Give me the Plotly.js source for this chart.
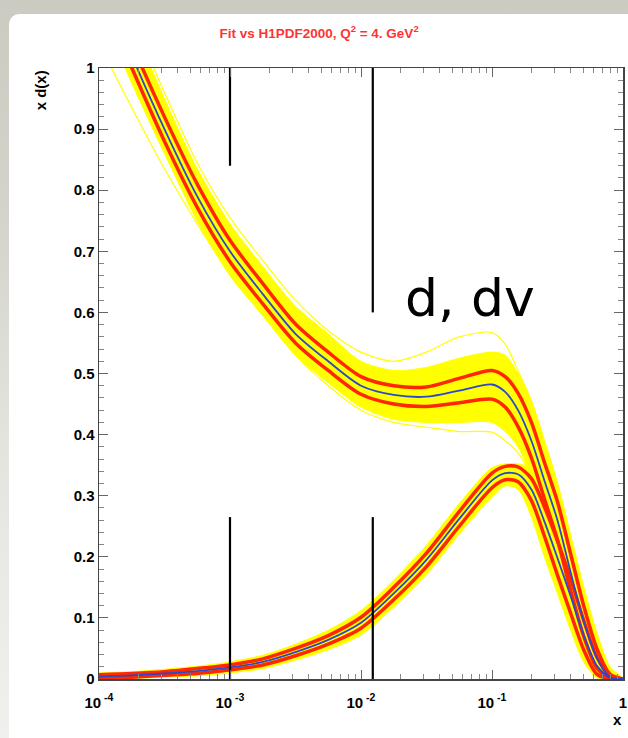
<!DOCTYPE html>
<html>
<head>
<meta charset="utf-8">
<script src="https://cdn.plot.ly/plotly-3.0.1.min.js"></script>
<style>
  html, body { margin:0; padding:0; }
  body { width:628px; height:738px; position:relative; overflow:hidden;
         background: linear-gradient(180deg, #cbcbc2 0%, #d4d4cc 30%, #e4e4df 60%, #f0f0ee 100%); }
  #card { position:absolute; left:9px; top:14px; width:619px; height:724px; background:#ffffff;
          border-top-left-radius:10px; }
  #chart { position:absolute; left:0; top:0; width:628px; height:738px; }
</style>
</head>
<body>
<div id="card"></div>
<div id="chart"></div>
<script>
// x grid (Bjorken x)
const xs = [0.0001, 0.000178, 0.000316, 0.000562, 0.001, 0.00178, 0.00316, 0.00562, 0.01, 0.0178, 0.0316, 0.0562,
            0.1, 0.126, 0.158, 0.2, 0.251, 0.316, 0.398, 0.501, 0.631, 0.794, 1.0];

// d(x): central fit, red error lines, yellow replica envelope, outlying replicas
const dCentral  = [1.15, 1.02, 0.90, 0.79, 0.70, 0.63, 0.565, 0.52, 0.48, 0.465, 0.462, 0.472, 0.482, 0.47, 0.44, 0.39, 0.325, 0.26, 0.175, 0.095, 0.035, 0.003, 0.0];
const dRedUp    = [1.175, 1.04, 0.92, 0.81, 0.718, 0.647, 0.581, 0.535, 0.495, 0.48, 0.478, 0.492, 0.505, 0.495, 0.468, 0.42, 0.355, 0.29, 0.205, 0.12, 0.05, 0.008, 0.0];
const dRedLo    = [1.125, 1.0, 0.88, 0.772, 0.683, 0.614, 0.55, 0.505, 0.466, 0.45, 0.446, 0.452, 0.458, 0.445, 0.413, 0.362, 0.295, 0.228, 0.145, 0.07, 0.018, 0.0, 0.0];
const dYelUp    = [1.21, 1.075, 0.95, 0.835, 0.745, 0.675, 0.61, 0.565, 0.52, 0.505, 0.51, 0.525, 0.535, 0.53, 0.50, 0.455, 0.39, 0.32, 0.235, 0.15, 0.075, 0.02, 0.002];
const dYelLo    = [1.10, 0.975, 0.86, 0.75, 0.66, 0.595, 0.53, 0.485, 0.445, 0.425, 0.42, 0.42, 0.42, 0.405, 0.38, 0.33, 0.26, 0.195, 0.12, 0.055, 0.01, 0.0, 0.0];
const dOutHi    = [1.22, 1.085, 0.96, 0.845, 0.755, 0.685, 0.62, 0.57, 0.535, 0.52, 0.535, 0.56, 0.567, 0.548, 0.505, 0.455, 0.39, 0.32, 0.235, 0.15, 0.075, 0.02, 0.002];
const dOutLo    = [1.04, 0.935, 0.835, 0.745, 0.662, 0.595, 0.53, 0.48, 0.44, 0.42, 0.412, 0.405, 0.404, 0.39, 0.37, 0.33, 0.26, 0.195, 0.12, 0.055, 0.01, 0.0, 0.0];

// dv(x)
const dvCentral = [0.004, 0.006, 0.009, 0.013, 0.019, 0.028, 0.044, 0.064, 0.092, 0.14, 0.195, 0.262, 0.325, 0.337, 0.335, 0.31, 0.258, 0.198, 0.136, 0.072, 0.022, 0.002, 0.0];
const dvRedUp   = [0.007, 0.009, 0.012, 0.017, 0.023, 0.033, 0.05, 0.071, 0.101, 0.15, 0.206, 0.274, 0.337, 0.348, 0.347, 0.328, 0.282, 0.226, 0.164, 0.096, 0.036, 0.005, 0.0];
const dvRedLo   = [0.001, 0.003, 0.006, 0.009, 0.015, 0.023, 0.038, 0.057, 0.083, 0.13, 0.184, 0.25, 0.313, 0.326, 0.323, 0.292, 0.234, 0.17, 0.108, 0.048, 0.008, 0.0, 0.0];
const dvYelUp   = [0.010, 0.012, 0.016, 0.021, 0.028, 0.039, 0.057, 0.08, 0.112, 0.162, 0.219, 0.287, 0.346, 0.352, 0.352, 0.345, 0.308, 0.253, 0.191, 0.122, 0.057, 0.012, 0.0];
const dvYelLo   = [0.0, 0.001, 0.003, 0.005, 0.01, 0.017, 0.031, 0.048, 0.072, 0.118, 0.171, 0.237, 0.298, 0.316, 0.31, 0.265, 0.2, 0.14, 0.08, 0.028, 0.002, 0.0, 0.0];

// vertical guide lines drawn on the slide
const guideX         = [0.001, 0.0123];
const guideUpperFrom = [1.0, 1.0];
const guideUpperTo   = [0.84, 0.60];
const guideLowerFrom = [0.265, 0.265];
const guideLowerTo   = [0.0, 0.0];

const xTickVals = [0.0001, 0.001, 0.01, 0.1, 1];
const xTickText = ['10<sup> -4</sup>', '10<sup> -3</sup>', '10<sup> -2</sup>', '10<sup> -1</sup>', '1'];

const YEL = '#ffff00', RED = '#ff2600', BLUE = '#2c46cc';

function line(y, color, width) {
  return { x: xs, y: y, mode: 'lines', line: { color: color, width: width, shape: 'spline', smoothing: 0.8 },
           hoverinfo: 'skip', showlegend: false };
}
function band(up, lo) {
  return [
    { x: xs, y: up, mode: 'lines', line: { color: YEL, width: 1, shape: 'spline', smoothing: 0.8 }, hoverinfo: 'skip', showlegend: false },
    { x: xs, y: lo, mode: 'lines', fill: 'tonexty', fillcolor: YEL, line: { color: YEL, width: 1, shape: 'spline', smoothing: 0.8 }, hoverinfo: 'skip', showlegend: false }
  ];
}

const gx = [], gy = [];
for (let i = 0; i < guideX.length; i++) {
  gx.push(guideX[i], guideX[i], null, guideX[i], guideX[i], null);
  gy.push(guideUpperFrom[i], guideUpperTo[i], null, guideLowerFrom[i], guideLowerTo[i], null);
}

const traces = [].concat(
  band(dYelUp, dYelLo),
  [line(dOutHi, YEL, 1.2), line(dOutLo, YEL, 1.2)],
  band(dvYelUp, dvYelLo),
  [line(dRedUp, RED, 3.5), line(dRedLo, RED, 3.5), line(dvRedUp, RED, 3.5), line(dvRedLo, RED, 3.5)],
  [line(dCentral, BLUE, 1.8), line(dvCentral, BLUE, 1.8)],
  [{ x: gx, y: gy, mode: 'lines', line: { color: '#000000', width: 2.2 }, hoverinfo: 'skip', showlegend: false, connectgaps: false }]
);

const tickFont = { family: 'Liberation Sans, Arial, sans-serif', size: 15, color: '#000', weight: 'bold' };

const layout = {
  width: 628, height: 738,
  margin: { l: 99, r: 5, t: 68, b: 59 },
  paper_bgcolor: 'rgba(0,0,0,0)',
  plot_bgcolor: '#ffffff',
  showlegend: false,
  title: { text: 'Fit vs H1PDF2000, Q<sup>2</sup> = 4. GeV<sup>2</sup>', xref: 'container', x: 0.508, xanchor: 'center',
           yref: 'container', y: 0.955, yanchor: 'middle',
           font: { family: 'Liberation Sans, Arial, sans-serif', size: 13.5, color: '#ff3333', weight: 'bold' } },
  xaxis: {
    type: 'log', range: [-4, 0], tickmode: 'array', tickvals: xTickVals, ticktext: xTickText,
    ticks: 'inside', ticklen: 9, tickwidth: 1, tickcolor: '#666', ticklabelstandoff: 9,
    minor: { tickmode: 'linear', dtick: 'D1', ticks: 'inside', ticklen: 5, tickcolor: '#888', showgrid: false },
    showline: true, linecolor: '#444', linewidth: 1.5, mirror: 'ticks', showgrid: false, zeroline: false,
    tickfont: tickFont
  },
  yaxis: {
    range: [0, 1], dtick: 0.1, tick0: 0, ticks: 'inside', ticklen: 9, tickwidth: 1, tickcolor: '#666',
    minor: { dtick: 0.02, ticks: 'inside', ticklen: 5, tickcolor: '#888', showgrid: false },
    showline: true, linecolor: '#444', linewidth: 1.5, mirror: 'ticks', showgrid: false, zeroline: false,
    tickfont: tickFont
  },
  annotations: [
    { text: 'x d(x)', xref: 'paper', yref: 'paper', x: -0.112, y: 1.0, xanchor: 'center', yanchor: 'top',
      textangle: -90, showarrow: false, font: { family: 'Liberation Sans, Arial, sans-serif', size: 15, color: '#000', weight: 'bold' } },
    { text: 'x', xref: 'paper', yref: 'paper', x: 0.99, y: -0.066, xanchor: 'center', yanchor: 'middle',
      showarrow: false, font: { family: 'Liberation Sans, Arial, sans-serif', size: 15, color: '#000', weight: 'bold' } },
    { text: 'd, dv', xref: 'paper', yref: 'paper', x: 0.58, y: 0.624, xanchor: 'left', yanchor: 'middle',
      showarrow: false, font: { family: 'DejaVu Sans, sans-serif', size: 52, color: '#000' } }
  ]
};

Plotly.newPlot('chart', traces, layout, { staticPlot: true, displayModeBar: false });
</script>
</body>
</html>
